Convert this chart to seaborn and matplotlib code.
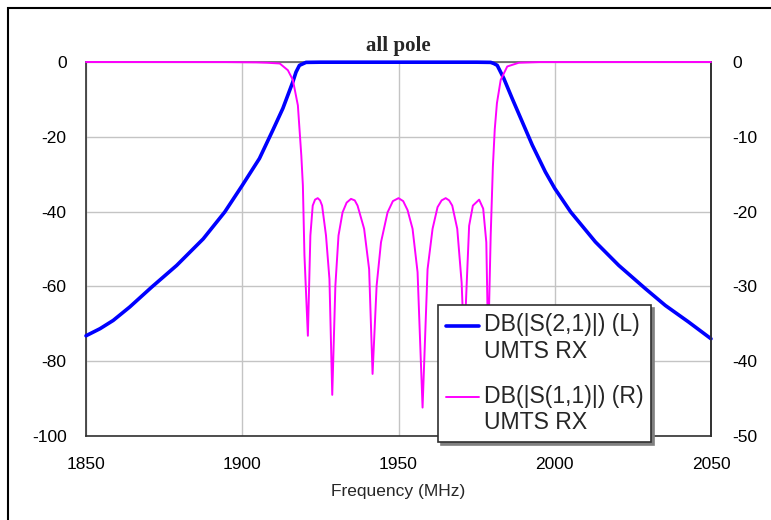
import numpy as np
import pandas as pd
import matplotlib
matplotlib.use("Agg")
import matplotlib.pyplot as plt
import seaborn as sns
from matplotlib.patches import Rectangle

# ---------------- data ----------------
freq_s21 = [1850, 1854.5, 1858.7, 1864, 1871, 1879, 1887.5, 1894.4, 1900,
            1905.5, 1909.8, 1913, 1916.2, 1917.2, 1918.3, 1920.4,
            1925, 1935, 1950, 1965, 1975, 1979.5, 1980.5,
            1981.6, 1983.7, 1986.4, 1989.6, 1992.8, 1997, 2000, 2005.1,
            2013, 2020.5, 2029, 2035.4, 2042.8, 2050]
s21_db = [-73.2, -71.3, -69.1, -65.5, -60.2, -54.4, -47.3, -40.1, -33.0,
          -25.8, -18.2, -12.4, -5.3, -2.7, -0.9, -0.1,
          -0.05, -0.05, -0.05, -0.05, -0.05, -0.1, -0.4,
          -0.9, -4.4, -9.8, -16.0, -22.2, -29.4, -33.8, -40.1,
          -48.1, -54.4, -60.6, -65.1, -69.5, -74.0]

freq_s11 = [1850, 1895, 1904.5, 1908, 1912, 1914.6, 1916.2, 1917.8, 1918.9,
            1919.4, 1919.9, 1921.0, 1921.8, 1922.55, 1923.3, 1924.15, 1924.9,
            1925.55, 1926.8, 1927.9, 1928.8, 1929.8, 1930.8, 1932.1, 1933.4,
            1934.8, 1936.0, 1936.9, 1939.0, 1940.6, 1941.7, 1943.0, 1944.4,
            1946.5, 1948.2, 1950.0, 1951.5, 1952.9, 1954.5, 1956.1, 1957.7,
            1959.3, 1960.9, 1962.5, 1963.8, 1965.1, 1966.2, 1967.2, 1968.8,
            1970.2, 1971.0, 1971.8, 1972.6, 1973.8, 1975.8, 1977.1, 1978.1,
            1978.7, 1979.5, 1980.2, 1980.8, 1981.5, 1982.7, 1984.8, 1988.5,
            1995, 2050]
s11_db = [0.0, -0.01, -0.05, -0.1, -0.2, -1.1, -2.4, -5.8, -12.5,
          -16.5, -25.8, -36.6, -23.2, -19.2, -18.4, -18.2, -18.5,
          -19.2, -23.2, -29.0, -44.5, -29.9, -23.2, -20.1, -18.8,
          -18.3, -18.5, -19.2, -22.3, -27.7, -41.7, -29.9, -24.1,
          -20.1, -18.6, -18.2, -18.6, -19.8, -22.3, -28.1, -46.2,
          -27.7, -22.3, -19.4, -18.5, -18.2, -18.5, -19.2, -22.3,
          -29.5, -38.0, -29.9, -21.9, -19.2, -18.4, -19.6, -24.1,
          -38.0, -23.2, -14.0, -9.0, -5.5, -2.4, -0.6, -0.1,
          -0.01, 0.0]

x_ticks = [1850, 1900, 1950, 2000, 2050]
left_ticks = [0, -20, -40, -60, -80, -100]
right_ticks = [0, -10, -20, -30, -40, -50]

title_text = "all pole"
x_label = "Frequency (MHz)"
label_s21 = "DB(|S(2,1)|) (L)\nUMTS RX"
label_s11 = "DB(|S(1,1)|) (R)\nUMTS RX"

# ---------------- styling ----------------
sns.set_style("white")
plt.rcParams['font.family'] = ['Liberation Sans', 'DejaVu Sans']
plt.rcParams['axes.unicode_minus'] = False

W, H = 771, 520
fig = plt.figure(figsize=(W / 100, H / 100), dpi=100)
ax = fig.add_axes([86 / W, 1 - 436 / H, 625 / W, 374 / H])
ax2 = ax.twinx()

df21 = pd.DataFrame({"f": freq_s21, "db": s21_db})
df11 = pd.DataFrame({"f": freq_s11, "db": s11_db})

sns.lineplot(data=df21, x="f", y="db", ax=ax, color="#0000ff", lw=2.6,
             legend=False, clip_on=False, zorder=3)
sns.lineplot(data=df11, x="f", y="db", ax=ax2, color="#ff00ff", lw=1.4,
             legend=False, clip_on=False, zorder=3)
l1 = ax.get_lines()[0]
l2 = ax2.get_lines()[0]

ax.set_xlim(1850, 2050)
ax.set_ylim(-100, 0)
ax2.set_ylim(-50, 0)
ax.set_xticks(x_ticks)
ax.set_yticks(left_ticks)
ax2.set_yticks(right_ticks)

ax.grid(True, color="#c4c4c4", lw=1.0)
ax.set_axisbelow(True)
ax2.grid(False)

for a in (ax, ax2):
    a.tick_params(length=0, labelsize=12.5, colors="black")
    a.set_xlabel("")
    a.set_ylabel("")
    for s in a.spines.values():
        s.set_color("#303030")
        s.set_linewidth(1.2)
for side in ("top", "left", "bottom"):
    ax2.spines[side].set_visible(False)
ax.spines["top"].set_color("#606060")

ax.tick_params(axis="y", pad=14)
ax.tick_params(axis="x", pad=15)
ax2.tick_params(axis="y", pad=15.5)

ax.set_xlabel(x_label, fontsize=12.5, labelpad=9)
ax.set_title(title_text, fontsize=15, fontweight="bold",
             family=["Liberation Serif", "DejaVu Serif"], pad=8)

fs = 16.6
leg = ax2.legend(handles=[l1, l2], labels=[label_s21, label_s11],
                 loc="upper left", bbox_to_anchor=(0.563, 0.350),
                 borderaxespad=0, fontsize=fs, frameon=True, fancybox=False,
                 shadow={"color": "#808080", "alpha": 1.0},
                 handlelength=1.43, handletextpad=0.2, borderpad=0.35,
                 labelspacing=0.95, framealpha=1, edgecolor="#303030")
leg.get_frame().set_linewidth(1.2)
leg.set_zorder(10)
for ln in leg.get_lines():
    y = np.asarray(ln.get_ydata(), dtype=float)
    ln.set_ydata(y + 0.57 * fs)

# outer frame of the picture (left and top edges visible)
fig.add_artist(Rectangle((8 / W, -0.1), 1.2, 1.1 - 8 / H,
                         transform=fig.transFigure, fill=False,
                         ec="black", lw=1.5))

fig.savefig("out.png", dpi=100)
